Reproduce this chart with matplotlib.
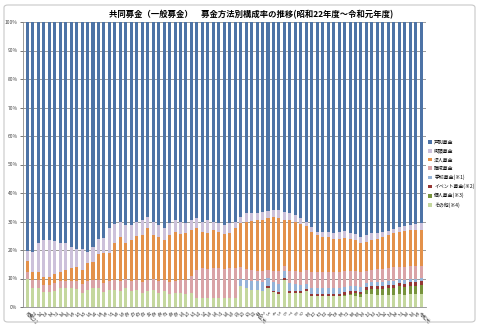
import matplotlib
matplotlib.use('Agg')
import matplotlib.pyplot as plt
import matplotlib.patches as patches
import numpy as np

plt.rcParams['font.family'] = ['Noto Sans CJK JP', 'DejaVu Sans']

# 年度ラベル（昭和22年度～令和元年度）
years = ['昭和22', '23', '24', '25', '26', '27', '28', '29', '30', '31',
         '32', '33', '34', '35', '36', '37', '38', '39', '40', '41',
         '42', '43', '44', '45', '46', '47', '48', '49', '50', '51',
         '52', '53', '54', '55', '56', '57', '58', '59', '60', '61',
         '62', '63', '平成元', '2', '3', '4', '5', '6', '7', '8',
         '9', '10', '11', '12', '13', '14', '15', '16', '17', '18',
         '19', '20', '21', '22', '23', '24', '25', '26', '27', '28',
         '29', '30', '令和元']

# 構成率（%）
sonota = [10.0, 6.8, 6.8, 5.4, 5.4, 5.6, 6.6, 6.6, 6.6, 6.4,
          4.9, 6.0, 6.6, 6.6, 5.4, 5.8, 6.0, 5.5, 6.5, 5.5,
          6.0, 5.0, 5.5, 6.0, 5.0, 5.5, 4.5, 4.8, 5.0, 4.5,
          4.8, 3.0, 3.0, 3.1, 3.0, 3.1, 3.0, 3.2, 3.1, 7.5,
          6.5, 6.0, 6.0, 5.5, 6.8, 5.2, 4.5, 9.5, 5.0, 5.0,
          4.8, 5.5, 4.0, 3.9, 3.8, 3.8, 3.9, 4.0, 4.0, 4.2,
          4.0, 3.5, 4.5, 4.5, 4.3, 4.2, 4.3, 4.2, 4.4, 4.3,
          4.5, 4.5, 4.6]
kojin = [0] * 58 + [0.3, 0.5, 0.8, 1.0, 1.5, 1.8, 2.0, 2.2, 2.5, 2.5,
                    2.8, 2.8, 3.0, 3.0, 3.2]
event = [0] * 44 + [0.4, 0.5, 0.6, 0.6, 0.7, 0.7, 0.7, 0.7, 0.7, 0.7,
                    0.7, 0.7, 0.7, 0.7, 0.8, 0.8, 0.8, 0.9, 0.9, 0.9,
                    1.0, 1.0, 1.0, 1.1, 1.1, 1.1, 1.2, 1.2, 1.2]
gakko = [0] * 39 + [2.5, 3.0, 3.0, 3.0, 3.2, 3.0, 3.2, 3.0, 2.5, 2.8,
                    2.5, 2.2, 2.0, 2.0, 2.0, 2.0, 2.0, 1.9, 1.9, 1.8,
                    1.8, 1.7, 1.6, 1.6, 1.5, 1.5, 1.5, 1.4, 1.4, 1.4,
                    1.3, 1.3, 1.3, 1.2]
shokuiki = [2.4, 2.5, 2.5, 2.3, 2.3, 2.9, 2.4, 2.6, 2.6, 2.6,
            3.1, 3.0, 2.9, 2.9, 3.1, 3.2, 3.5, 3.5, 3.5, 3.5,
            3.5, 3.8, 4.0, 4.0, 4.0, 4.0, 4.3, 4.2, 4.5, 5.0,
            6.2, 10.0, 10.6, 10.4, 10.6, 10.5, 10.4, 10.4, 10.7, 4.2,
            4.0, 4.0, 3.8, 3.8, 2.8, 3.6, 4.4, 1.9, 4.0, 4.3,
            4.7, 4.8, 5.7, 5.8, 5.7, 5.7, 5.9, 5.8, 5.6, 5.3,
            5.2, 5.2, 4.3, 4.3, 4.4, 4.6, 4.6, 4.8, 4.5, 4.7,
            4.3, 4.3, 4.3]
hojin = [3.8, 3.0, 3.0, 2.8, 2.8, 3.0, 3.4, 3.9, 4.5, 4.9,
         5.1, 6.4, 6.3, 9.1, 10.5, 10.0, 12.9, 15.7, 12.6, 14.5,
         15.4, 16.5, 18.1, 15.3, 15.7, 14.0, 16.5, 17.4, 16.1, 16.3,
         16.0, 14.6, 12.8, 12.3, 13.4, 12.8, 12.2, 12.2, 13.8, 15.2,
         16.4, 17.3, 17.7, 18.2, 18.1, 19.0, 18.6, 16.2, 18.0, 17.4,
         16.7, 15.4, 14.0, 12.9, 12.5, 12.5, 11.6, 11.6, 11.7, 11.4,
         10.9, 10.1, 10.1, 10.6, 10.8, 11.2, 11.5, 11.8, 12.2, 12.4,
         12.6, 12.6, 12.4]
gaito = [3.3, 7.0, 10.0, 13.0, 13.0, 11.5, 10.1, 9.4, 7.3, 6.6,
         7.4, 3.8, 5.2, 5.4, 5.3, 8.7, 6.6, 5.2, 6.2, 5.3,
         5.0, 5.2, 4.1, 4.6, 4.1, 4.1, 4.1, 4.1, 4.3, 3.6,
         3.5, 3.5, 3.5, 4.7, 2.9, 3.0, 3.2, 3.6, 2.3, 2.3,
         3.0, 2.6, 2.6, 2.8, 2.7, 2.7, 2.9, 2.8, 2.4, 2.4,
         2.0, 1.6, 1.8, 1.1, 1.7, 1.7, 2.0, 2.4, 2.4, 2.0,
         2.2, 2.4, 2.3, 2.2, 2.0, 1.7, 1.5, 1.4, 1.5, 1.7,
         2.0, 2.2, 2.5]
kobetsu = [80.5, 80.7, 77.7, 76.5, 76.5, 77.0, 77.5, 77.5, 79.0, 79.5,
           79.5, 80.8, 79.0, 76.0, 75.7, 72.3, 71.0, 70.1, 71.2, 71.2,
           70.1, 69.5, 68.3, 70.1, 71.2, 72.4, 70.6, 69.5, 70.1, 70.6,
           69.5, 68.9, 70.1, 69.5, 70.1, 70.6, 71.2, 70.6, 70.1, 68.3,
           67.1, 67.1, 66.9, 66.5, 66.2, 65.8, 66.0, 66.5, 67.1, 67.7,
           68.9, 70.0, 71.8, 73.6, 73.6, 73.6, 74.0, 73.6, 73.4, 74.0,
           74.4, 75.3, 74.8, 74.2, 74.0, 73.6, 73.2, 72.8, 72.1, 71.7,
           71.1, 70.9, 70.6]

# 下から積み上げる順
series = [
    ('その他(※4)', sonota, '#c4d79e'),
    ('個人募金(※3)', kojin, '#77933c'),
    ('イベント募金(※2)', event, '#953735'),
    ('学校募金(※1)', gakko, '#95b3d7'),
    ('職域募金', shokuiki, '#d9a3a6'),
    ('法人募金', hojin, '#e3914a'),
    ('街頭募金', gaito, '#ccc1da'),
    ('戸別募金', kobetsu, '#4d73a6'),
]

fig = plt.figure(figsize=(4.8, 3.26), dpi=100)
ax = fig.add_axes([23 / 480, 19 / 326, 402.5 / 480, 285 / 326])

# グラフエリアの枠
frame = patches.FancyBboxPatch((4 / 480, 4 / 326), 471 / 480, 317 / 326,
                               boxstyle='round,pad=0,rounding_size=0.008',
                               transform=fig.transFigure, fill=False,
                               edgecolor='#c8c8c8', linewidth=0.8)
fig.patches.append(frame)

x = np.arange(len(years))
bottom = np.zeros(len(years))
handles = []
for name, vals, col in series:
    vals = np.asarray(vals, dtype=float)
    b = ax.bar(x, vals, width=0.55, bottom=bottom, color=col, label=name,
               linewidth=0, zorder=2)
    handles.append(b)
    bottom += vals

ax.set_xlim(-0.8, 72.8)
ax.set_ylim(0, 100)
ax.set_yticks(np.arange(0, 101, 10))
ax.set_yticklabels([f'{v}%' for v in range(0, 101, 10)])
ax.yaxis.grid(True, color='#8c8c8c', linewidth=0.6, zorder=0)
ax.set_axisbelow(True)
ax.tick_params(axis='y', labelsize=3.5, length=2, width=0.5, pad=2,
               colors='#404040')
ax.set_xticks(x)
ax.set_xticklabels(years, rotation=-45, ha='left', va='top',
                   rotation_mode='anchor', fontsize=3.5)
ax.tick_params(axis='x', length=0, pad=3, colors='#404040')
for s in ['top', 'right']:
    ax.spines[s].set_visible(False)
for s in ['left', 'bottom']:
    ax.spines[s].set_color('#8c8c8c')
    ax.spines[s].set_linewidth(0.6)

fig.text(251 / 480, 1 - 15 / 326,
         '共同募金（一般募金）　募金方法別構成率の推移(昭和22年度～令和元年度)',
         ha='center', va='center', fontsize=6, fontweight='bold')

ax.legend(handles[::-1], [s[0] for s in series[::-1]],
          loc='upper left', bbox_to_anchor=(426 / 480, 1 - 138 / 326),
          bbox_transform=fig.transFigure, frameon=False, fontsize=3.5,
          handlelength=0.8, handleheight=0.8, handletextpad=0.5,
          labelspacing=0.75, borderaxespad=0)

fig.savefig('out.png', dpi=100)
